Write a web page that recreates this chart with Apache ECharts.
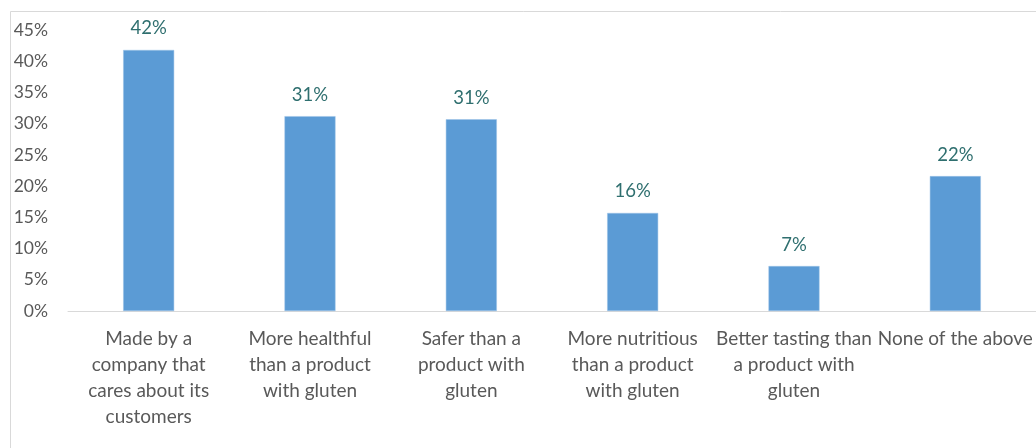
<!DOCTYPE html>
<html>
<head>
<meta charset="utf-8">
<script src="https://cdn.jsdelivr.net/npm/echarts@6/dist/echarts.min.js"></script>
<style>html,body{margin:0;padding:0;background:#fff;}#c{width:1036px;height:448px;}</style>
</head>
<body>
<div id="c"></div>
<script>
const categories = [
  "Made by a\ncompany that\ncares about its\ncustomers",
  "More healthful\nthan a product\nwith gluten",
  "Safer than a\nproduct with\ngluten",
  "More nutritious\nthan a product\nwith gluten",
  "Better tasting than\na product with\ngluten",
  "None of the above"
];
const values = [0.418, 0.312, 0.307, 0.157, 0.072, 0.216];
const yTicks = { min: 0, max: 0.45, interval: 0.05 };

const FONT = "Lato";
const chart = echarts.init(document.getElementById('c'));
chart.setOption({
  animation: false,
  backgroundColor: '#fff',
  graphic: [{
    type: 'rect', left: 8, top: 9, silent: true,
    shape: { width: 1200, height: 600 },
    style: { fill: 'none', stroke: '#d9d9d9', lineWidth: 1 }
  }],
  grid: { left: 68, right: -2, top: 30, bottom: 137, containLabel: false },
  xAxis: {
    type: 'category', data: categories,
    axisLine: { lineStyle: { color: '#d9d9d9', width: 1 } },
    axisTick: { show: false },
    axisLabel: { interval: 0, color: '#595959', fontFamily: FONT, fontSize: 19, lineHeight: 26, margin: 15, align: 'center' }
  },
  yAxis: {
    type: 'value', min: yTicks.min, max: yTicks.max, interval: yTicks.interval,
    splitLine: { show: false },
    axisLine: { show: false }, axisTick: { show: false },
    axisLabel: { color: '#595959', fontFamily: FONT, fontSize: 17.5, margin: 20,
      formatter: v => Math.round(v * 100) + '%' }
  },
  series: [{
    type: 'bar', data: values, barWidth: 51,
    itemStyle: { color: '#5b9bd5', borderColor: '#9dc3e6', borderWidth: 0.5 },
    label: { show: true, position: 'top', distance: 12, color: '#2f6f6f', fontFamily: FONT, fontSize: 18.5,
      formatter: p => Math.round(p.value * 100) + '%' }
  }]
});
</script>
</body>
</html>
